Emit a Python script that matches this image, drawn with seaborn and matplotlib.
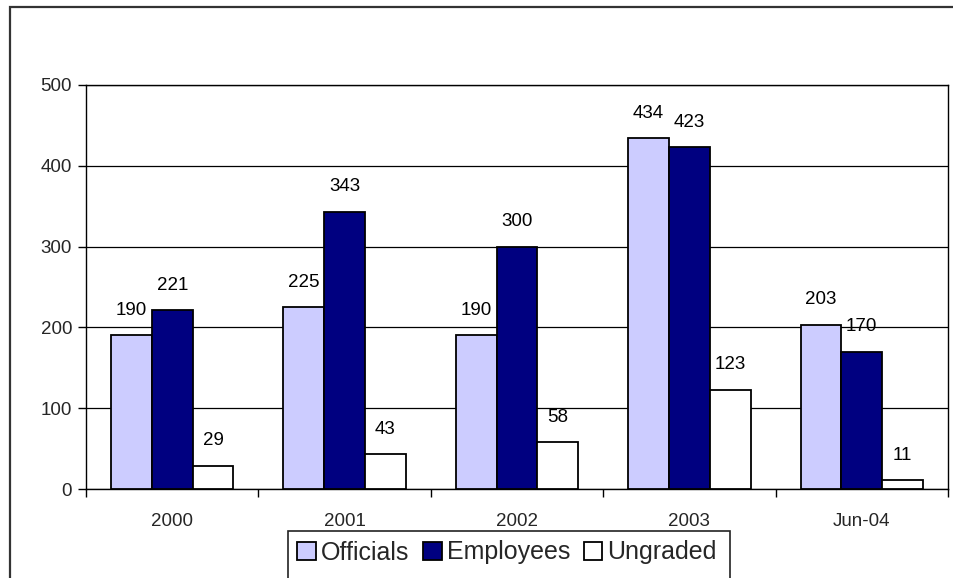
import matplotlib
matplotlib.use("Agg")
import matplotlib.pyplot as plt
from matplotlib.patches import Rectangle
from matplotlib.ticker import FixedLocator
import pandas as pd
import seaborn as sns

# Staff counts per year by grade
years = ["2000", "2001", "2002", "2003", "Jun-04"]
groups = ["Officials", "Employees", "Ungraded"]
officials = [190, 225, 190, 434, 203]
employees = [221, 343, 300, 423, 170]
ungraded = [29, 43, 58, 123, 11]
y_ticks = [0, 100, 200, 300, 400, 500]

colors = {"Officials": "#CCCCFF", "Employees": "#000080", "Ungraded": "#FFFFFF"}

df = pd.DataFrame({
    "Year": years * 3,
    "Group": ["Officials"] * len(years) + ["Employees"] * len(years) + ["Ungraded"] * len(years),
    "Count": officials + employees + ungraded,
})

sns.set_style("white")
plt.rcParams["font.family"] = ["Liberation Sans", "DejaVu Sans"]

fig = plt.figure(figsize=(9.54, 5.78), dpi=100)
ax = fig.add_axes([86 / 954, 1 - 489 / 578, (948 - 86) / 954, (489 - 85) / 578])

sns.barplot(data=df, x="Year", y="Count", hue="Group", order=years,
            hue_order=groups, palette=colors, width=0.71, saturation=1,
            edgecolor="black", linewidth=1.3, ax=ax, zorder=3)

# value labels above each bar
for container, vals in zip(ax.containers, [officials, employees, ungraded]):
    for bar, v in zip(container, vals):
        ax.annotate(str(v), (bar.get_x() + bar.get_width() / 2, v),
                    xytext=(0, 18), textcoords="offset points",
                    ha="center", va="center", fontsize=13.5, color="black")

ax.set_ylim(0, 500)
ax.set_xlim(-0.5, len(years) - 0.5)
ax.set_yticks(y_ticks)
ax.set_xlabel("")
ax.set_ylabel("")
ax.yaxis.grid(True, color="black", linewidth=0.9)
ax.set_axisbelow(True)
for s in ax.spines.values():
    s.set_visible(True)
    s.set_color("black")
    s.set_linewidth(1.0)

ax.tick_params(axis="y", which="major", direction="out", length=6, width=1,
               color="black", labelsize=13.5, pad=4, left=True)
ax.tick_params(axis="x", which="major", length=0, labelsize=13.5, pad=17)
ax.xaxis.set_minor_locator(FixedLocator([i - 0.5 for i in range(len(years) + 1)]))
ax.tick_params(axis="x", which="minor", direction="out", length=6, width=1,
               color="black", bottom=True)

# legend below the plot area (its box runs past the bottom edge)
handles, labels = ax.get_legend_handles_labels()
if ax.legend_ is not None:
    ax.legend_.remove()
leg = fig.legend(handles, labels, loc="upper left",
                 bbox_to_anchor=(288 / 954, 1 - 531 / 578),
                 bbox_transform=fig.transFigure, ncol=3, fontsize=18,
                 frameon=False, handlelength=0.74, handleheight=0.74,
                 handletextpad=0.2, columnspacing=0.55, borderpad=0.38,
                 borderaxespad=0)
for h in leg.legend_handles:
    h.set_edgecolor("black")
    h.set_linewidth(1.3)
fig.patches.append(Rectangle((288 / 954, -0.05), (730 - 288) / 954,
                             0.05 + 1 - 531 / 578, transform=fig.transFigure,
                             fill=False, edgecolor="#222222", linewidth=1.2,
                             zorder=1))

# outer chart border
fig.patches.append(Rectangle((10 / 954, -0.1), 1.1, 1 - 7 / 578 + 0.1,
                             transform=fig.transFigure, fill=False,
                             edgecolor="#333333", linewidth=1.6, zorder=0))

fig.savefig("out.png", dpi=100)
